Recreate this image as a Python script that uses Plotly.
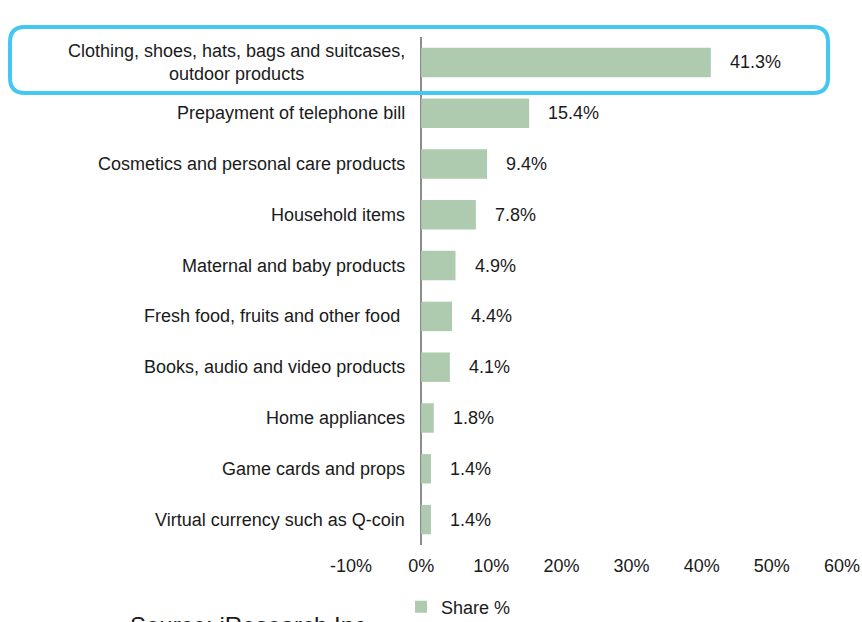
import plotly.graph_objects as go

categories = [
    "Clothing, shoes, hats, bags and suitcases,<br>outdoor products",
    "Prepayment of telephone bill",
    "Cosmetics and personal care products",
    "Household items",
    "Maternal and baby products",
    "Fresh food, fruits and other food ",
    "Books, audio and video products",
    "Home appliances",
    "Game cards and props",
    "Virtual currency such as Q-coin",
]
values = [41.3, 15.4, 9.4, 7.8, 4.9, 4.4, 4.1, 1.8, 1.4, 1.4]
tick_vals = [-10, 0, 10, 20, 30, 40, 50, 60]
tick_text = ["-10%", "0%", "10%", "20%", "30%", "40%", "50%", "60%"]

W, H = 862, 622
L, R, T, B = 351, 20, 37, 77
pw, ph = W - L - R, H - T - B

def px(x):
    return (x - L) / pw

def py(y):
    return (H - B - y) / ph

FONT = "Liberation Sans, Arial"
fig = go.Figure()
fig.add_trace(go.Bar(
    x=values, y=list(range(len(categories))), orientation="h",
    marker=dict(color="#afcbaf", line=dict(width=0)),
    width=0.58, name="Share %", showlegend=True,
    hoverinfo="x",
))

annotations = []
for i, (c, v) in enumerate(zip(categories, values)):
    annotations.append(dict(x=0, y=i, xref="x", yref="y", text=c, showarrow=False,
                            xanchor="right", yanchor="middle", xshift=-14, align="center",
                            font=dict(size=18, color="#1a1a1a", family=FONT)))
    annotations.append(dict(x=v, y=i, xref="x", yref="y", text=f"{v:.1f}%", showarrow=False,
                            xanchor="left", yanchor="middle", xshift=17,
                            font=dict(size=18, color="#1a1a1a", family=FONT)))
annotations.append(dict(x=px(128), y=py(625), xref="paper", yref="paper",
                        text="Source: iResearch Inc.", showarrow=False,
                        xanchor="left", yanchor="middle",
                        font=dict(size=24, color="#1a1a1a", family=FONT)))

# rounded highlight rectangle
x0, x1, y0, y1, r = 10, 828, 27, 93, 15
rx, ry = r / pw, r / ph
X0, X1, Y0, Y1 = px(x0), px(x1), py(y1), py(y0)
path = (f"M {X0+rx},{Y1} L {X1-rx},{Y1} Q {X1},{Y1} {X1},{Y1-ry} "
        f"L {X1},{Y0+ry} Q {X1},{Y0} {X1-rx},{Y0} L {X0+rx},{Y0} "
        f"Q {X0},{Y0} {X0},{Y0+ry} L {X0},{Y1-ry} Q {X0},{Y1} {X0+rx},{Y1} Z")

fig.update_layout(
    width=W, height=H,
    margin=dict(l=L, r=R, t=T, b=B, autoexpand=False),
    paper_bgcolor="white", plot_bgcolor="white",
    font=dict(family=FONT, size=18, color="#1a1a1a"),
    xaxis=dict(range=[-10, 60], tickvals=tick_vals, ticktext=tick_text,
               showgrid=False, zeroline=True, zerolinecolor="#8c8c8c", zerolinewidth=2,
               showline=False, ticks="", ticklabelstandoff=8, tickfont=dict(size=18),
               fixedrange=True),
    yaxis=dict(range=[len(categories) - 0.5, -0.5], showticklabels=False, showgrid=False,
               zeroline=False, showline=False, ticks="", fixedrange=True),
    legend=dict(orientation="h", x=px(401), y=py(607), xanchor="left", yanchor="middle",
                font=dict(size=18), itemwidth=30, bgcolor="rgba(0,0,0,0)"),
    annotations=annotations,
    shapes=[dict(type="path", path=path, xref="paper", yref="paper",
                 line=dict(color="#45c7f4", width=4), layer="above")],
)

fig.write_html("out.html")
